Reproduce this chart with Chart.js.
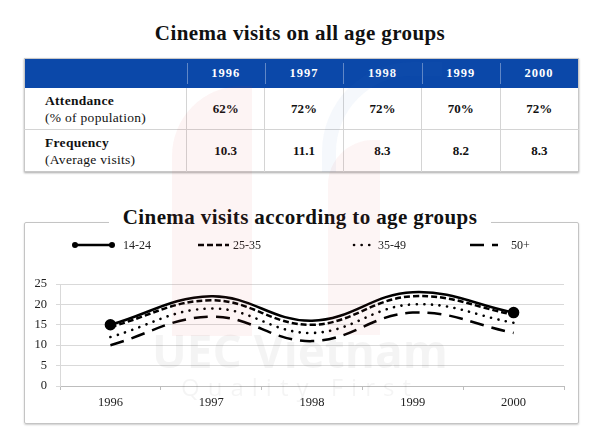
<!DOCTYPE html>
<html>
<head>
<meta charset="utf-8">
<script src="https://cdn.jsdelivr.net/npm/chart.js@4.4.1/dist/chart.umd.min.js"></script>
<style>
    body { margin: 0; width: 600px; height: 436px; background: #fff; position: relative; overflow: hidden; font-family: 'Liberation Serif', serif; color: #111; }
    .title { position: absolute; left: 0; width: 600px; text-align: center; font-weight: bold; font-size: 21px; line-height: 26px; letter-spacing: 0.4px; }
    #title1 { top: 20px; }
    #title2 { top: 204px; z-index: 3; }
    #title2 span { background: #fff; padding: 0 14px; }
    #stats { position: absolute; left: 24px; top: 58px; width: 555px; border-collapse: collapse; table-layout: fixed; box-shadow: 0 1px 2px rgba(0,0,0,0.35); border: 1px solid #c8c8c8; }
    #stats th { background: #0b48a9; color: #fff; height: 29px; font-size: 12.5px; letter-spacing: 1px; position: relative; padding: 0; }
    #stats th + th::before { content: ''; position: absolute; left: 0; top: 4px; bottom: 4px; width: 1px; background: rgba(255,255,255,0.35); }
    #stats td { padding: 0; text-align: center; font-weight: bold; font-size: 13px; }
    #stats td + td { border-left: 1px solid #d4d4d4; }
    #stats tr.r1 td { height: 41px; border-bottom: 1px solid #d4d4d4; }
    #stats tr.r2 td { height: 41px; }
    #stats td.lbl { text-align: left; padding-left: 20px; font-weight: normal; font-size: 13.5px; line-height: 17px; letter-spacing: 0.3px; }
    #stats td.lbl b { font-weight: bold; }
    #box { position: absolute; left: 24px; top: 222px; width: 553px; height: 200px; border: 1px solid #c4c4c4; border-radius: 2px; box-shadow: 0 1px 2px rgba(0,0,0,0.2); }
    #chart { position: absolute; left: 24px; top: 222px; z-index: 2; }
    .wm { position: absolute; pointer-events: none; z-index: 5; white-space: nowrap; }
    #wm-a { left: 172px; top: 86px; width: 80px; height: 250px; background: rgba(215,60,60,0.06); border-radius: 70px 0 0 0; }
    #wm-b { left: 328px; top: 140px; width: 52px; height: 195px; background: rgba(215,60,60,0.05); border-radius: 45px 0 0 0; }
    #wm-c { left: 322px; top: 62px; width: 120px; height: 110px; border-top: 14px solid rgba(60,110,200,0.05); border-left: 14px solid rgba(60,110,200,0.05); border-radius: 90px 0 0 0; box-sizing: border-box; }
    #wm-t1 { left: 100px; top: 322px; width: 400px; text-align: center; font: bold 46px 'Open Sans', sans-serif; color: rgba(0,0,0,0.045); line-height: 56px; }
    #wm-t2 { left: 100px; top: 372px; width: 400px; text-align: center; font: 24px 'Open Sans', sans-serif; color: rgba(0,0,0,0.045); letter-spacing: 8px; line-height: 30px; }
</style>
</head>
<body>
<div class="title" id="title1">Cinema visits on all age groups</div>
<table id="stats"></table>

<div id="box"></div>
<div class="title" id="title2"><span>Cinema visits according to age groups</span></div>
<canvas id="chart" width="555" height="201"></canvas>

<div class="wm" id="wm-a"></div>
<div class="wm" id="wm-b"></div>
<div class="wm" id="wm-c"></div>
<div class="wm" id="wm-t1">UEC Vietnam</div>
<div class="wm" id="wm-t2">Quality First</div>

<script>
// table data
const years = ['1996', '1997', '1998', '1999', '2000'];
const attendance = [62, 72, 72, 70, 72];
const frequency = [10.3, 11.1, 8.3, 8.2, 8.3];

// chart data
const ageGroups = ['14-24', '25-35', '35-49', '50+'];
const visits1424 = [15, 22, 16, 23, 18];
const visits2535 = [14.5, 21, 15, 22, 17.5];
const visits3549 = [12, 19, 13, 20, 15.5];
const visits50 = [10, 17, 11, 18, 13];
const yMin = 0, yMax = 25, yStep = 5;

function buildTable() {
    let html = '<colgroup><col style="width:162px">';
    years.forEach(() => { html += '<col>'; });
    html += '</colgroup><tr><th></th>';
    years.forEach(y => { html += '<th>' + y + '</th>'; });
    html += '</tr><tr class="r1"><td class="lbl"><b>Attendance</b><br>(% of population)</td>';
    attendance.forEach(v => { html += '<td>' + v + '%</td>'; });
    html += '</tr><tr class="r2"><td class="lbl"><b>Frequency</b><br>(Average visits)</td>';
    frequency.forEach(v => { html += '<td>' + v.toFixed(1) + '</td>'; });
    html += '</tr>';
    document.getElementById('stats').innerHTML = html;
}

// legend drawn on the canvas, one slot per dataset
const legendSlots = [
    { x: 51, len: 37, text: 99 },
    { x: 174, len: 31, text: 209 },
    { x: 330, len: 19, text: 354 },
    { x: 446, len: 28, text: 487 }
];

const legendPlugin = {
    id: 'ageLegend',
    afterDraw(chart) {
        const ctx = chart.ctx;
        const y = 23;
        chart.data.datasets.forEach((ds, i) => {
            const s = legendSlots[i];
            ctx.save();
            ctx.strokeStyle = '#000';
            ctx.lineWidth = ds.borderWidth;
            ctx.lineCap = ds.borderCapStyle || 'butt';
            ctx.setLineDash(ds.borderDash || []);
            ctx.beginPath();
            ctx.moveTo(s.x, y);
            ctx.lineTo(s.x + s.len, y);
            ctx.stroke();
            if (i === 0) {
                ctx.setLineDash([]);
                ctx.fillStyle = '#000';
                [s.x, s.x + s.len].forEach(px => {
                    ctx.beginPath();
                    ctx.arc(px, y, 3, 0, Math.PI * 2);
                    ctx.fill();
                });
            }
            ctx.fillStyle = '#222';
            ctx.font = '12px "Liberation Serif"';
            ctx.textBaseline = 'middle';
            ctx.fillText(ds.label, s.text, y + 1);
            ctx.restore();
        });
    }
};

function initChart() {
    const ctx = document.getElementById('chart').getContext('2d');
    const endPoint = c => (c.dataIndex === 0 || c.dataIndex === years.length - 1) ? 4.5 : 0;
    new Chart(ctx, {
        type: 'line',
        data: {
            labels: years,
            datasets: [
                { label: ageGroups[0], data: visits1424, borderColor: '#000', backgroundColor: '#000', borderWidth: 2.5, pointRadius: endPoint, tension: 0.4 },
                { label: ageGroups[1], data: visits2535, borderColor: '#000', borderWidth: 2.5, borderDash: [6, 3], pointRadius: 0, tension: 0.4 },
                { label: ageGroups[2], data: visits3549, borderColor: '#000', borderWidth: 2.6, borderDash: [0.1, 7.5], borderCapStyle: 'round', pointRadius: 0, tension: 0.4 },
                { label: ageGroups[3], data: visits50, borderColor: '#000', borderWidth: 2.5, borderDash: [14, 8], pointRadius: 0, tension: 0.4 }
            ]
        },
        options: {
            responsive: false,
            animation: false,
            layout: { padding: { top: 62, right: 15, left: 0, bottom: 0 } },
            plugins: { legend: { display: false }, tooltip: { enabled: false } },
            scales: {
                x: {
                    offset: true,
                    afterFit: s => { s.height = 37; },
                    grid: { offset: true, drawOnChartArea: false, drawTicks: true, tickLength: 4, color: '#bdbdbd' },
                    border: { color: '#bdbdbd' },
                    ticks: { padding: 5, color: '#222', font: { family: 'Liberation Serif', size: 12.5 } }
                },
                y: {
                    min: yMin,
                    max: yMax,
                    afterFit: s => { s.width = 36; },
                    grid: { color: '#d9d9d9', tickLength: 4 },
                    border: { color: '#d9d9d9' },
                    ticks: { stepSize: yStep, padding: 9, color: '#222', font: { family: 'Liberation Serif', size: 12.5 } }
                }
            }
        },
        plugins: [legendPlugin]
    });
}

buildTable();
initChart();
</script>
</body>
</html>
